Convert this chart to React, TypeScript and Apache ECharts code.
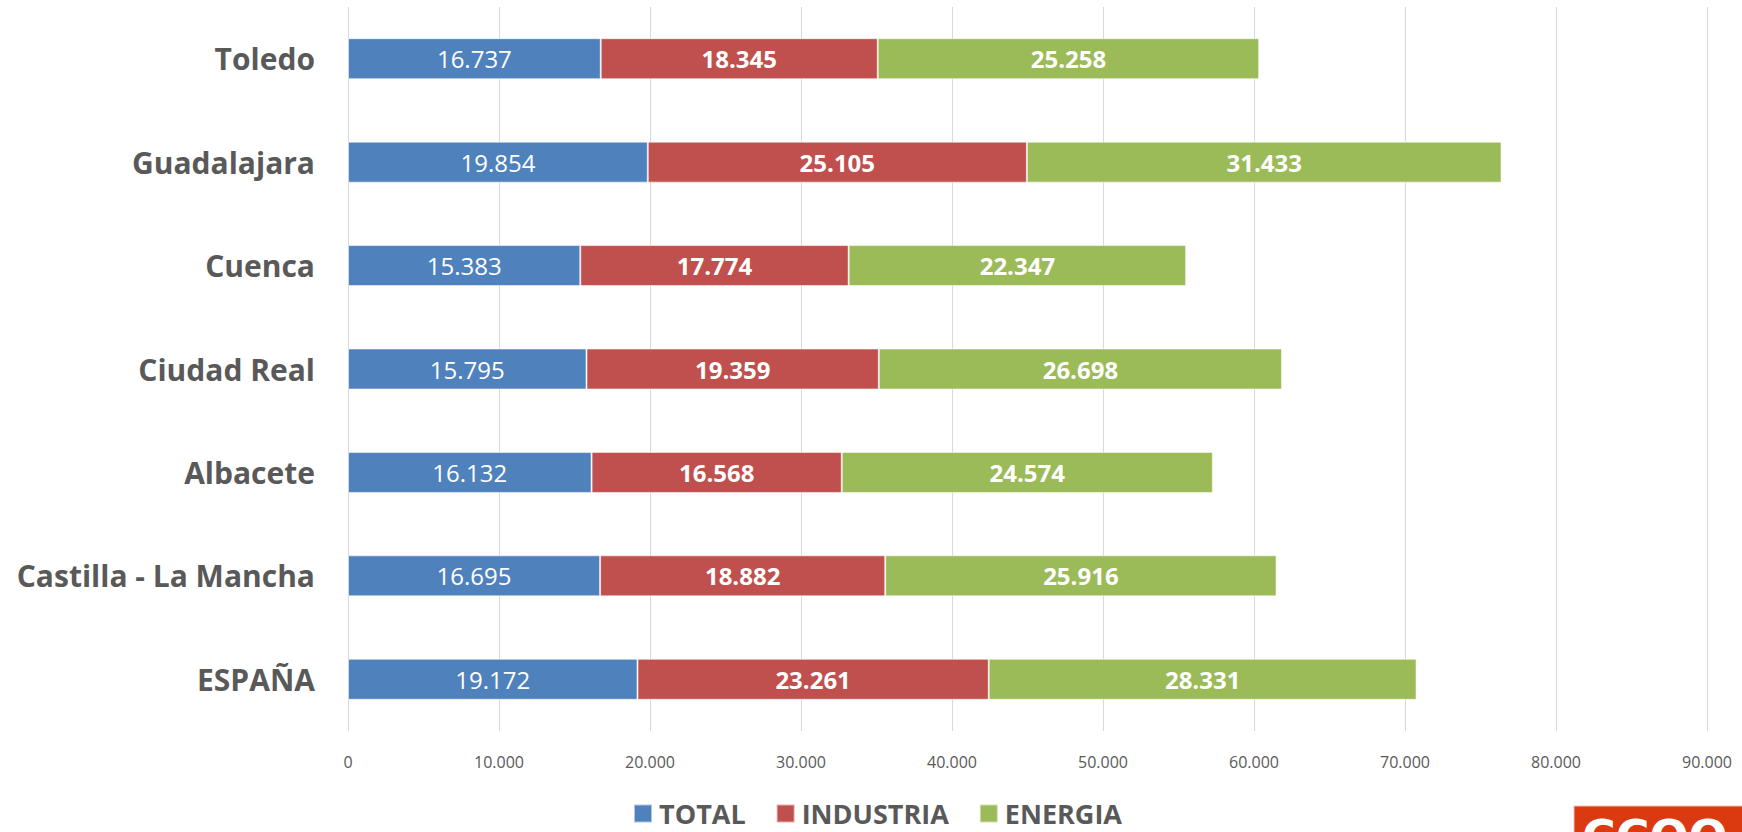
import React, { useEffect, useRef } from "react";
import * as echarts from "echarts";

const categories = ["Toledo", "Guadalajara", "Cuenca", "Ciudad Real", "Albacete", "Castilla - La Mancha", "ESPAÑA"];
const totalValues = [16737, 19854, 15383, 15795, 16132, 16695, 19172];
const industriaValues = [18345, 25105, 17774, 19359, 16568, 18882, 23261];
const energiaValues = [25258, 31433, 22347, 26698, 24574, 25916, 28331];
const seriesNames = ["TOTAL", "INDUSTRIA", "ENERGIA"];
const colors = ["#4F81BD", "#C0504D", "#9BBB59"];

const fmt = (v: number) => {
  const s = Math.round(v).toString();
  return s.replace(/\B(?=(\d{3})+(?!\d))/g, ".");
};

export default function App() {
  const ref = useRef<HTMLDivElement>(null);
  useEffect(() => {
    document.body.style.margin = "0";
    const chart = echarts.init(ref.current!, null, { renderer: "svg" });
    const mk = (name: string, data: number[], color: string, bold: boolean) => ({
      name,
      type: "bar",
      stack: "s",
      data,
      barWidth: 41,
      itemStyle: { color, borderColor: "rgba(255,255,255,0.55)", borderWidth: 1 },
      label: {
        show: true,
        position: "inside",
        color: "#ffffff",
        fontFamily: "Open Sans",
        fontSize: 24,
        fontWeight: bold ? "bold" : "normal",
        formatter: (p: any) => fmt(p.value),
      },
    });
    chart.setOption({
      animation: false,
      backgroundColor: "#ffffff",
      grid: { left: 348, right: 35, top: 7, bottom: 101, containLabel: false },
      legend: {
        data: seriesNames,
        left: 633,
        top: 800,
        padding: 0,
        itemWidth: 18,
        itemHeight: 18,
        itemGap: 30,
        icon: "rect",
        textStyle: {
          color: "#595959",
          fontFamily: "Open Sans",
          fontWeight: "bold",
          fontSize: 27,
          lineHeight: 26,
          padding: [0, 0, 0, 2],
        },
      },
      xAxis: {
        type: "value",
        min: 0,
        max: 90000,
        interval: 10000,
        axisLine: { show: false },
        axisTick: { show: false },
        splitLine: { show: true, lineStyle: { color: "#D9D9D9", width: 1 } },
        axisLabel: {
          color: "#595959",
          fontFamily: "Open Sans",
          fontSize: 16,
          margin: 23,
          formatter: (v: number) => fmt(v),
        },
      },
      yAxis: {
        type: "category",
        data: categories,
        inverse: true,
        axisLine: { show: false },
        axisTick: { show: false },
        axisLabel: {
          color: "#595959",
          fontFamily: "Open Sans",
          fontWeight: "bold",
          fontSize: 30,
          margin: 33,
        },
      },
      series: [
        mk(seriesNames[0], totalValues, colors[0], false),
        mk(seriesNames[1], industriaValues, colors[1], true),
        mk(seriesNames[2], energiaValues, colors[2], true),
      ],
      graphic: [
        {
          type: "rect",
          shape: { x: 1574, y: 806, width: 175, height: 40 },
          style: { fill: "#DB3A10", stroke: "#F3C2B0", lineWidth: 1 },
        },
        {
          type: "text",
          x: 1582,
          y: 814,
          style: { text: "CCOO", fill: "#ffffff", font: "bold 46px 'DejaVu Sans'" },
        },
      ],
    });
    return () => chart.dispose();
  }, []);
  return <div ref={ref} style={{ width: 1742, height: 832 }} />;
}
